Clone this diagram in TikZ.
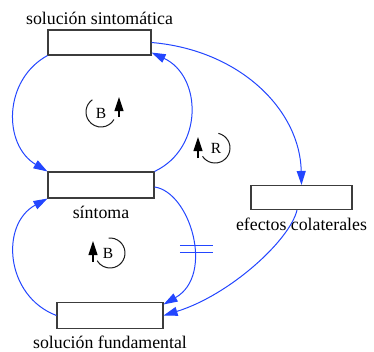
\documentclass[tikz,border=0pt]{standalone}
\usepackage{fontspec}
\setmainfont{Liberation Serif}
\usepackage{xcolor}
\usepackage{tikz}
\usetikzlibrary{arrows.meta,positioning}
\definecolor{linkblue}{RGB}{35,70,255}
\definecolor{boxgray}{RGB}{60,60,60}

\begin{document}
\begin{tikzpicture}[x=1pt,y=1pt,
  box/.style={draw=boxgray, line width=1.1pt, fill=white, minimum width=104pt,
              minimum height=25pt, inner sep=0pt},
  lbl/.style={font=\fontsize{17.8}{20}\selectfont, anchor=base, inner sep=0pt},
  link/.style={linkblue, line width=1pt, -{Triangle[length=14pt,width=9pt]}},
  loopsym/.style={font=\fontsize{15.5}{17}\selectfont, inner sep=0pt},
  loopline/.style={line width=1pt, black!90},
  looparrow/.style={line width=1.1pt, -{Triangle[length=14pt,width=9pt]}}
]
\useasboundingbox (0,0) rectangle (374,-351);
% variables
\node[box, minimum width=103pt] (sinto) at (99.5,-42.5) {};
\node[box, minimum width=106pt, minimum height=26pt] (sint) at (101,-185) {};
\node[box, minimum width=101pt, minimum height=24pt] (efect) at (301.5,-197.5) {};
\node[box, minimum width=106pt, minimum height=26pt] (fund) at (110,-315.5) {};
\node[lbl] (sintoname) at ([yshift=5pt]sinto.north) {solución sintomática};
\node[lbl] (sintname) at ([yshift=-20pt]sint.south) {síntoma};
\node[lbl] (efectname) at ([yshift=-20pt]efect.south) {efectos colaterales};
\node[lbl] (fundname) at ([yshift=-19pt]fund.south) {solución fundamental};
% links
\draw[link] (sinto.south west) .. controls (3,-80) and (3,-145) .. (sint.north west);
\draw[link] (sint.north east) .. controls (204,-148) and (202,-76) .. ([yshift=3pt]sinto.south east);
\draw[link] (sinto.east) .. controls (240,-50) and (300,-110) .. (efect.north);
\draw[link] ([xshift=-4.5pt]efect.south) .. controls (290,-240) and (230,-295) .. (fund.east);
\draw[link] ([yshift=-2pt]sint.east) .. controls (190,-192) and (215,-275) .. ([yshift=-2.5pt]fund.north east)
  coordinate[pos=0.58] (dly);
\draw[link] (fund.west) .. controls (5,-296) and (0,-224) .. (sint.south west);
% delay
\draw[linkblue, line width=1pt] ([shift={(-13pt,3.5pt)}]dly) -- ++(33,0);
\draw[linkblue, line width=1pt] ([shift={(-13pt,-3.5pt)}]dly) -- ++(33,0);
% loops
\node[loopsym] (bal1) at (101,-113) {B};
\draw[loopline] (101,-112) ++(125:15) arc[start angle=125, end angle=330, radius=15];
\draw[looparrow] ([xshift=18pt,yshift=-4pt]bal1.center) -- ++(0,20);
\node[loopsym] (rein) at (216,-148) {R};
\draw[loopline] (215,-148) ++(77:15) arc[start angle=77, end angle=-146, radius=15];
\draw[looparrow] ([xshift=-18pt,yshift=-10pt]rein.center) -- ++(0,21);
\node[loopsym] (bal2) at (108,-253) {B};
\draw[loopline] (110,-253) ++(95:15) arc[start angle=95, end angle=-149, radius=15];
\draw[looparrow] ([xshift=-15pt,yshift=-9pt]bal2.center) -- ++(0,21);
\end{tikzpicture}
\end{document}
